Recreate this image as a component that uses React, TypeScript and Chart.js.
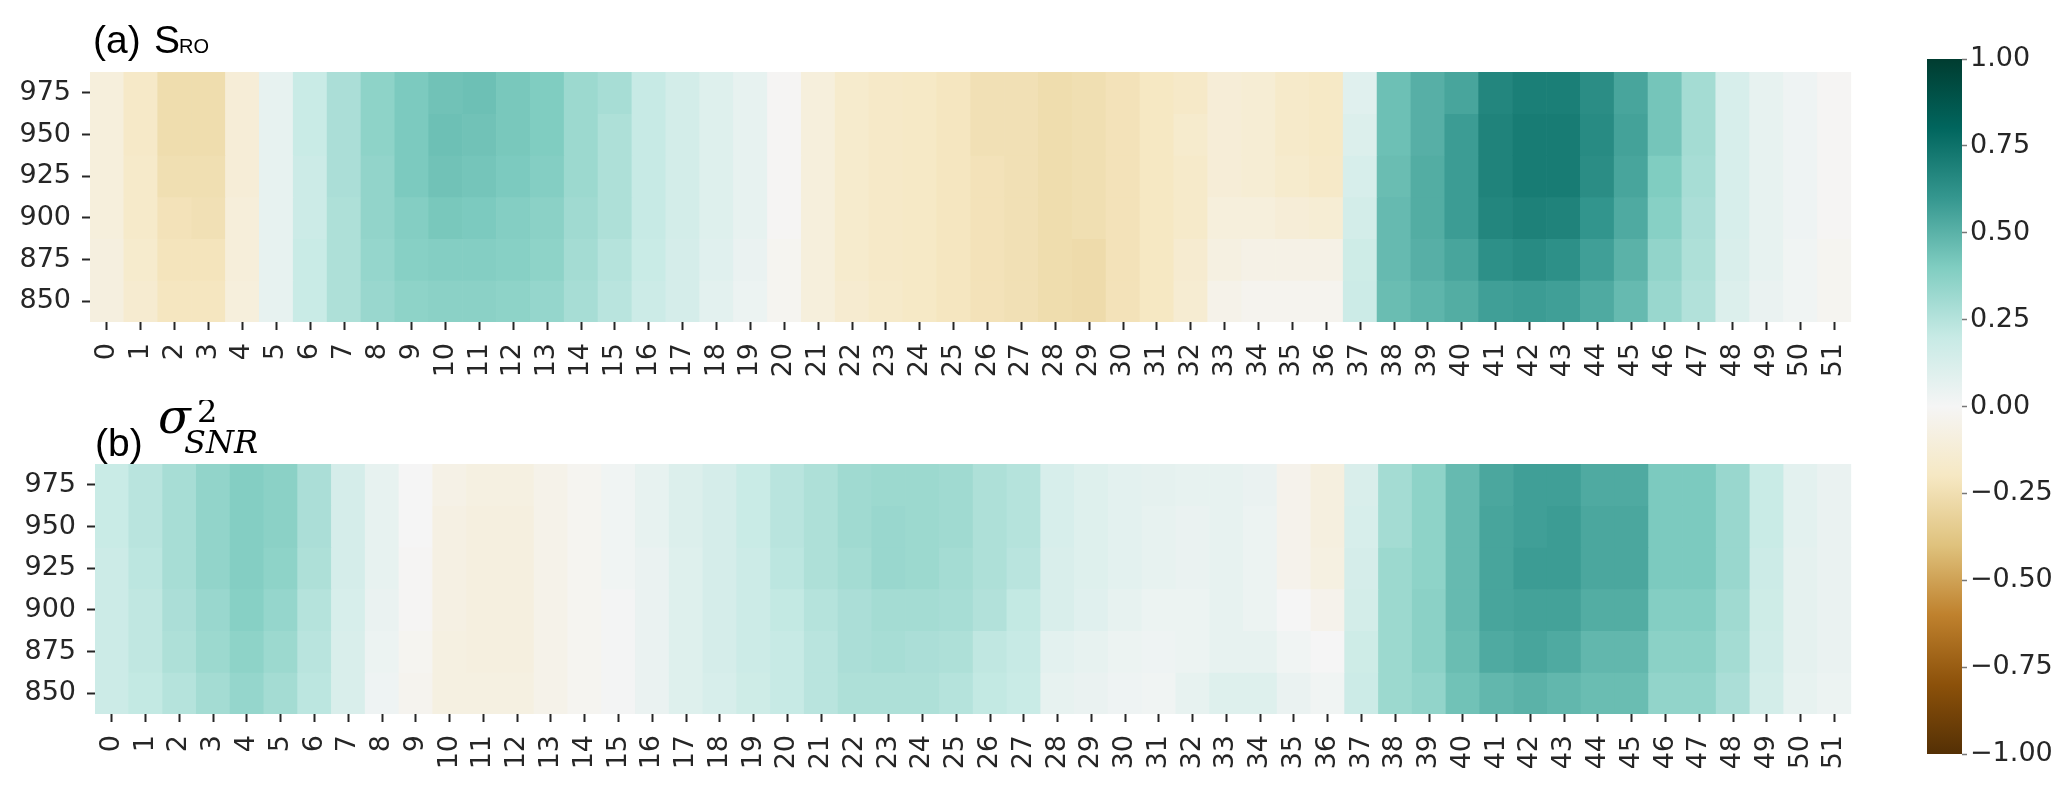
import React, { useEffect, useRef } from "react";
import { Chart, registerables } from "chart.js";

Chart.register(...registerables);

// ---------------- data ----------------
const columnLabels = [
  "0", "1", "2", "3", "4", "5", "6", "7", "8", "9", "10", "11", "12", "13", "14", "15", "16", "17",
  "18", "19", "20", "21", "22", "23", "24", "25", "26", "27", "28", "29", "30", "31", "32", "33", "34",
  "35", "36", "37", "38", "39", "40", "41", "42", "43", "44", "45", "46", "47", "48", "49", "50", "51",
];
const pressureLevels = ["975", "950", "925", "900", "875", "850"];
const colorbarTicks = [-1, -0.75, -0.5, -0.25, 0, 0.25, 0.5, 0.75, 1];

// (a) S_RO, one array per pressure level
const sro975 = [-0.10, -0.18, -0.26, -0.26, -0.12, 0.06, 0.19, 0.28, 0.36, 0.41, 0.44, 0.45, 0.42, 0.40, 0.32, 0.29, 0.20, 0.15, 0.10, 0.06, -0.01, -0.10, -0.16, -0.18, -0.19, -0.21, -0.24, -0.24, -0.26, -0.25, -0.23, -0.20, -0.18, -0.12, -0.13, -0.17, -0.19, 0.09, 0.45, 0.51, 0.55, 0.67, 0.70, 0.70, 0.64, 0.55, 0.43, 0.30, 0.13, 0.06, 0.03, -0.01];
const sro950 = [-0.10, -0.18, -0.26, -0.26, -0.12, 0.06, 0.19, 0.28, 0.36, 0.41, 0.45, 0.44, 0.42, 0.40, 0.32, 0.27, 0.20, 0.15, 0.10, 0.06, -0.01, -0.10, -0.16, -0.18, -0.19, -0.21, -0.24, -0.24, -0.26, -0.25, -0.23, -0.20, -0.16, -0.12, -0.13, -0.17, -0.19, 0.11, 0.45, 0.51, 0.58, 0.68, 0.71, 0.71, 0.65, 0.56, 0.43, 0.30, 0.13, 0.06, 0.03, -0.01];
const sro925 = [-0.10, -0.17, -0.25, -0.25, -0.12, 0.06, 0.18, 0.28, 0.35, 0.41, 0.44, 0.43, 0.41, 0.39, 0.32, 0.27, 0.20, 0.15, 0.10, 0.06, -0.01, -0.10, -0.16, -0.18, -0.19, -0.21, -0.23, -0.24, -0.26, -0.25, -0.23, -0.20, -0.17, -0.12, -0.13, -0.16, -0.18, 0.13, 0.46, 0.52, 0.58, 0.68, 0.71, 0.71, 0.64, 0.55, 0.40, 0.29, 0.13, 0.06, 0.03, -0.01];
const sro900 = [-0.10, -0.17, -0.23, -0.24, -0.11, 0.06, 0.18, 0.27, 0.35, 0.39, 0.42, 0.41, 0.39, 0.37, 0.31, 0.27, 0.20, 0.15, 0.10, 0.06, -0.01, -0.10, -0.16, -0.18, -0.19, -0.21, -0.23, -0.24, -0.26, -0.25, -0.23, -0.20, -0.17, -0.10, -0.10, -0.12, -0.13, 0.15, 0.47, 0.52, 0.58, 0.67, 0.69, 0.68, 0.61, 0.53, 0.38, 0.28, 0.13, 0.06, 0.03, -0.01];
const sro875 = [-0.09, -0.16, -0.22, -0.22, -0.11, 0.06, 0.19, 0.27, 0.34, 0.38, 0.39, 0.39, 0.38, 0.36, 0.30, 0.25, 0.19, 0.14, 0.09, 0.05, -0.02, -0.10, -0.16, -0.18, -0.19, -0.21, -0.23, -0.24, -0.26, -0.27, -0.23, -0.20, -0.15, -0.08, -0.06, -0.06, -0.06, 0.17, 0.47, 0.51, 0.55, 0.63, 0.65, 0.63, 0.57, 0.50, 0.35, 0.27, 0.12, 0.06, 0.02, -0.02];
const sro850 = [-0.09, -0.15, -0.21, -0.21, -0.10, 0.06, 0.19, 0.27, 0.33, 0.36, 0.37, 0.37, 0.36, 0.34, 0.29, 0.24, 0.18, 0.14, 0.08, 0.04, -0.02, -0.10, -0.15, -0.17, -0.19, -0.21, -0.23, -0.24, -0.26, -0.27, -0.23, -0.20, -0.14, -0.05, -0.03, -0.03, -0.03, 0.18, 0.46, 0.49, 0.52, 0.57, 0.58, 0.57, 0.53, 0.47, 0.33, 0.26, 0.11, 0.05, 0.02, -0.02];

// (b) sigma^2_SNR, one array per pressure level
const snr975 = [0.19, 0.24, 0.29, 0.35, 0.39, 0.37, 0.28, 0.14, 0.06, 0.00, -0.06, -0.08, -0.08, -0.05, -0.02, 0.02, 0.06, 0.11, 0.14, 0.19, 0.24, 0.27, 0.31, 0.32, 0.32, 0.31, 0.27, 0.25, 0.13, 0.10, 0.08, 0.07, 0.06, 0.06, 0.05, -0.04, -0.09, 0.12, 0.30, 0.36, 0.47, 0.54, 0.57, 0.57, 0.53, 0.53, 0.41, 0.41, 0.33, 0.19, 0.08, 0.05];
const snr950 = [0.19, 0.24, 0.29, 0.35, 0.39, 0.37, 0.28, 0.14, 0.06, 0.00, -0.07, -0.09, -0.09, -0.05, -0.02, 0.02, 0.06, 0.11, 0.14, 0.19, 0.24, 0.27, 0.31, 0.33, 0.32, 0.31, 0.27, 0.25, 0.13, 0.10, 0.08, 0.06, 0.05, 0.06, 0.04, -0.04, -0.09, 0.13, 0.30, 0.36, 0.47, 0.55, 0.57, 0.58, 0.54, 0.54, 0.41, 0.41, 0.33, 0.19, 0.08, 0.05];
const snr925 = [0.18, 0.23, 0.29, 0.35, 0.39, 0.36, 0.27, 0.14, 0.06, -0.01, -0.07, -0.09, -0.09, -0.05, -0.02, 0.02, 0.05, 0.10, 0.14, 0.18, 0.23, 0.27, 0.30, 0.33, 0.32, 0.30, 0.27, 0.24, 0.12, 0.10, 0.08, 0.06, 0.05, 0.06, 0.04, -0.04, -0.08, 0.14, 0.32, 0.36, 0.47, 0.55, 0.58, 0.58, 0.54, 0.54, 0.41, 0.41, 0.33, 0.18, 0.07, 0.05];
const snr900 = [0.18, 0.22, 0.28, 0.33, 0.38, 0.34, 0.25, 0.13, 0.05, -0.01, -0.07, -0.09, -0.09, -0.05, -0.02, 0.01, 0.05, 0.10, 0.14, 0.18, 0.21, 0.25, 0.28, 0.30, 0.30, 0.29, 0.26, 0.21, 0.12, 0.09, 0.06, 0.04, 0.04, 0.06, 0.04, 0.00, -0.04, 0.15, 0.32, 0.37, 0.47, 0.55, 0.56, 0.56, 0.52, 0.52, 0.39, 0.39, 0.31, 0.17, 0.07, 0.05];
const snr875 = [0.18, 0.22, 0.27, 0.32, 0.36, 0.32, 0.24, 0.12, 0.04, -0.02, -0.08, -0.09, -0.09, -0.05, -0.02, 0.01, 0.05, 0.10, 0.14, 0.18, 0.20, 0.24, 0.28, 0.29, 0.28, 0.27, 0.22, 0.20, 0.08, 0.06, 0.04, 0.03, 0.04, 0.06, 0.06, 0.02, 0.00, 0.17, 0.32, 0.37, 0.46, 0.53, 0.55, 0.53, 0.48, 0.48, 0.37, 0.37, 0.30, 0.16, 0.07, 0.05];
const snr850 = [0.18, 0.21, 0.25, 0.30, 0.34, 0.30, 0.23, 0.12, 0.03, -0.03, -0.08, -0.08, -0.08, -0.05, -0.02, 0.01, 0.05, 0.10, 0.13, 0.17, 0.20, 0.24, 0.27, 0.27, 0.27, 0.25, 0.21, 0.19, 0.06, 0.05, 0.03, 0.02, 0.06, 0.10, 0.10, 0.05, 0.02, 0.18, 0.32, 0.35, 0.44, 0.48, 0.50, 0.48, 0.46, 0.46, 0.35, 0.35, 0.28, 0.15, 0.06, 0.04];

const sroRows = [sro975, sro950, sro925, sro900, sro875, sro850];
const snrRows = [snr975, snr950, snr925, snr900, snr875, snr850];

// ---------------- colormap (matplotlib BrBG) ----------------
const BRBG = [
  "#543005", "#8c510a", "#bf812d", "#dfc27d", "#f6e8c3", "#f5f5f5",
  "#c7eae5", "#80cdc1", "#35978f", "#01665e", "#003c30",
];
function hexRgb(h: string) {
  return [parseInt(h.slice(1, 3), 16), parseInt(h.slice(3, 5), 16), parseInt(h.slice(5, 7), 16)];
}
const BRBG_RGB = BRBG.map(hexRgb);
function brbg(v: number) {
  const t = ((Math.max(-1, Math.min(1, v)) + 1) / 2) * 10;
  const i = Math.min(9, Math.floor(t));
  const f = t - i;
  const a = BRBG_RGB[i];
  const b = BRBG_RGB[i + 1];
  const c = a.map((x, k) => Math.round(x + (b[k] - x) * f));
  return `rgb(${c[0]},${c[1]},${c[2]})`;
}

const TICK_FONT = { family: "'DejaVu Sans', sans-serif", size: 27 };
const TEXT_COLOR = "#262626";

type Geom = { padTop: number; padRight: number; yWidth: number; xHeight: number };

function heatmapConfig(rows: number[][], geom: Geom, drawTitle: (ctx: CanvasRenderingContext2D) => void): any {
  const n = pressureLevels.length;
  return {
    type: "bar",
    data: {
      labels: columnLabels,
      datasets: rows.map((vals, r) => ({
        label: pressureLevels[r],
        data: vals.map(() => [n - 1 - r, n - r]),
        backgroundColor: vals.map(brbg),
        borderWidth: 0,
        barPercentage: 1,
        categoryPercentage: 1,
      })),
    },
    options: {
      animation: false,
      responsive: false,
      events: [],
      layout: { padding: { top: geom.padTop, right: geom.padRight, left: 0, bottom: 0 } },
      plugins: { legend: { display: false }, tooltip: { enabled: false }, title: { display: false } },
      scales: {
        x: {
          type: "category",
          stacked: true,
          offset: true,
          grid: { display: true, drawOnChartArea: false, drawTicks: true, tickLength: 8, tickWidth: 2, tickColor: TEXT_COLOR, offset: false },
          border: { display: false },
          ticks: { autoSkip: false, maxRotation: 90, minRotation: 90, font: TICK_FONT, color: TEXT_COLOR, padding: 13 },
          afterFit: (s: any) => { s.height = geom.xHeight; },
        },
        y: {
          type: "linear",
          min: 0,
          max: n,
          stacked: false,
          afterBuildTicks: (s: any) => { s.ticks = pressureLevels.map((_, i) => ({ value: i + 0.5 })); },
          grid: { display: true, drawOnChartArea: false, drawTicks: true, tickLength: 8, tickWidth: 2, tickColor: TEXT_COLOR },
          border: { display: false },
          ticks: {
            font: TICK_FONT,
            color: TEXT_COLOR,
            padding: 11,
            callback: (v: any) => pressureLevels[n - 1 - Math.floor(Number(v))],
          },
          afterFit: (s: any) => { s.width = geom.yWidth; },
        },
      },
    },
    plugins: [
      {
        id: "panelTitle",
        afterDraw(chart: any) {
          const ctx = chart.ctx as CanvasRenderingContext2D;
          ctx.save();
          ctx.fillStyle = "#000";
          ctx.textBaseline = "alphabetic";
          ctx.textAlign = "left";
          drawTitle(ctx);
          ctx.restore();
        },
      },
    ],
  };
}

function colorbarConfig(): any {
  return {
    type: "bar",
    data: {
      labels: [""],
      datasets: [
        {
          data: [[colorbarTicks[0], colorbarTicks[colorbarTicks.length - 1]]],
          backgroundColor: (c: any) => {
            const ca = c.chart.chartArea;
            if (!ca) return BRBG[5];
            const g = c.chart.ctx.createLinearGradient(0, ca.bottom, 0, ca.top);
            BRBG.forEach((col, i) => g.addColorStop(i / (BRBG.length - 1), col));
            return g;
          },
          borderWidth: 0,
          barPercentage: 1,
          categoryPercentage: 1,
        },
      ],
    },
    options: {
      animation: false,
      responsive: false,
      events: [],
      layout: { padding: { left: 27, top: 59, bottom: 37, right: 0 } },
      plugins: { legend: { display: false }, tooltip: { enabled: false } },
      scales: {
        x: { display: false, offset: true },
        y: {
          position: "right",
          min: -1,
          max: 1,
          afterBuildTicks: (s: any) => { s.ticks = colorbarTicks.map((v) => ({ value: v })); },
          grid: { display: true, drawOnChartArea: false, drawTicks: true, tickLength: 5, tickWidth: 1.5, tickColor: "#777" },
          border: { display: false },
          ticks: {
            font: TICK_FONT,
            color: TEXT_COLOR,
            padding: 3,
            callback: (v: any) => {
              const num = Number(v);
              const s = Math.abs(num).toFixed(2);
              return num < 0 ? "\u2212" + s : s;
            },
          },
          afterFit: (s: any) => { s.width = 105; },
        },
      },
    },
  };
}

function drawTitleA(ctx: CanvasRenderingContext2D) {
  ctx.font = "39px 'Liberation Sans', Arial, sans-serif";
  ctx.fillText("(a)", 93, 53);
  ctx.fillText("S", 154, 53);
  ctx.font = "20px 'Liberation Sans', Arial, sans-serif";
  ctx.fillText("RO", 179, 53);
}

function drawTitleB(ctx: CanvasRenderingContext2D) {
  ctx.font = "39px 'Liberation Sans', Arial, sans-serif";
  ctx.fillText("(b)", 95, 56);
  ctx.font = "italic 48px 'DejaVu Serif', serif";
  ctx.fillText("\u03c3", 158, 33);
  ctx.font = "32px 'DejaVu Serif', serif";
  ctx.fillText("2", 197, 22);
  ctx.font = "italic 32px 'DejaVu Serif', serif";
  ctx.fillText("SNR", 184, 53);
}

export default function App() {
  const aRef = useRef<HTMLCanvasElement>(null);
  const bRef = useRef<HTMLCanvasElement>(null);
  const cRef = useRef<HTMLCanvasElement>(null);

  useEffect(() => {
    const charts = [
      new Chart(aRef.current as HTMLCanvasElement, heatmapConfig(sroRows, { padTop: 72, padRight: 28, yWidth: 90, xHeight: 78 }, drawTitleA)),
      new Chart(bRef.current as HTMLCanvasElement, heatmapConfig(snrRows, { padTop: 64, padRight: 23, yWidth: 95, xHeight: 77 }, drawTitleB)),
      new Chart(cRef.current as HTMLCanvasElement, colorbarConfig()),
    ];
    return () => charts.forEach((c) => c.destroy());
  }, []);

  return (
    <div style={{ position: "absolute", left: 0, top: 0, width: 2067, height: 791, background: "#fff", overflow: "hidden" }}>
      <canvas ref={aRef} width={1880} height={400} style={{ position: "absolute", left: 0, top: 0, width: 1880, height: 400 }} />
      <canvas ref={bRef} width={1880} height={391} style={{ position: "absolute", left: 0, top: 400, width: 1880, height: 391 }} />
      <canvas ref={cRef} width={167} height={791} style={{ position: "absolute", left: 1900, top: 0, width: 167, height: 791 }} />
    </div>
  );
}
